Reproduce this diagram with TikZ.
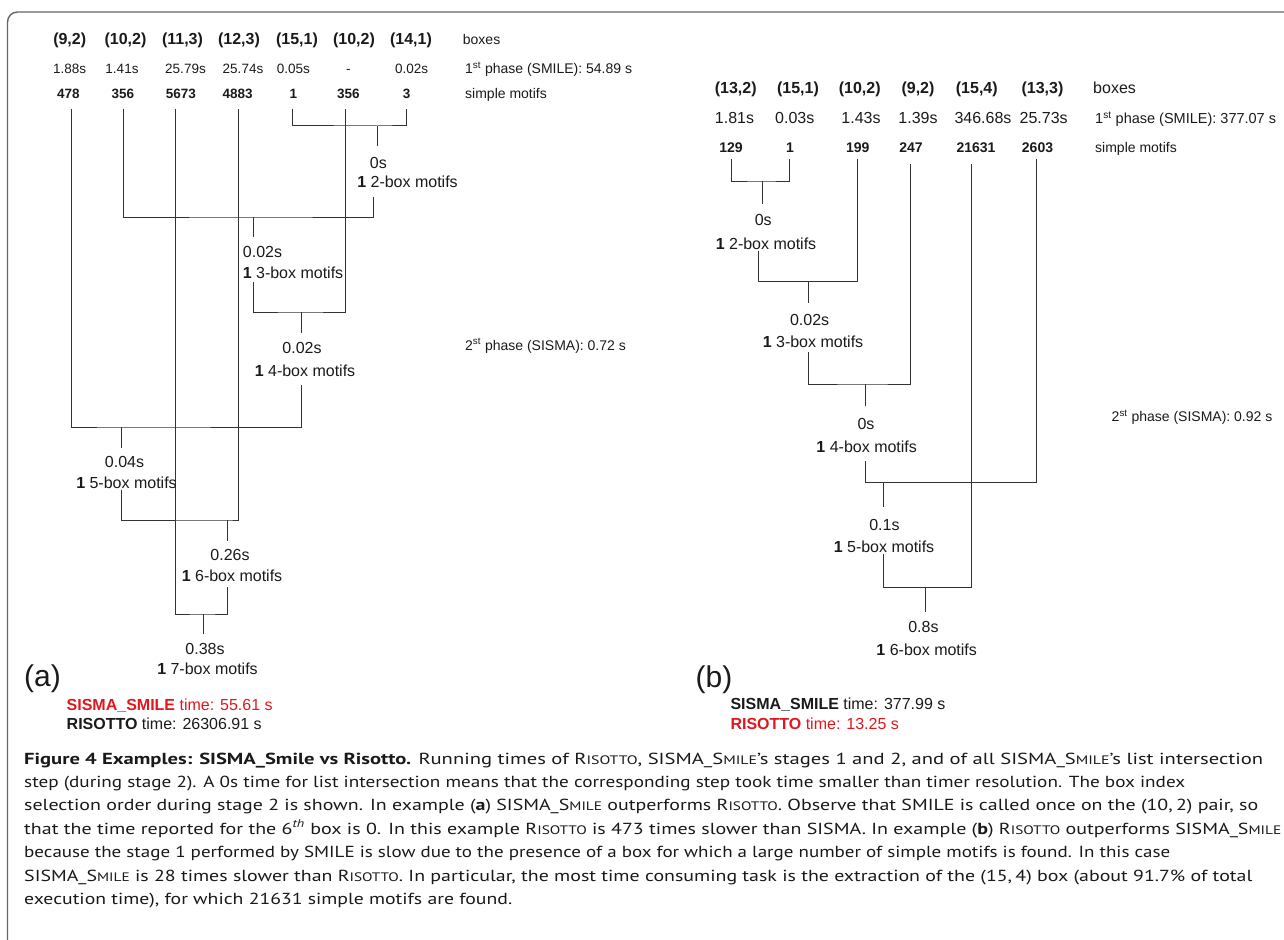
\documentclass[tikz,border=0pt]{standalone}
\usepackage{fontspec}
\usepackage{graphicx}
\setmainfont{Liberation Sans}
\newfontfamily\capfont{PT Sans}
\definecolor{sred}{HTML}{E3161D}
\definecolor{ink}{HTML}{1A1A1A}
\newcommand\sck[1]{{\fontsize{12.3}{14}\selectfont #1}}
\newcommand\capline[2]{\resizebox{#1pt}{\height}{#2}}
\tikzset{
  ln/.style={draw=black!80, line width=1pt},
  frm/.style={draw=black!60, line width=1.4pt, rounded corners=10pt},
  basic/.style={anchor=base, inner sep=0pt, text=ink},
  hbL/.style={basic, font=\bfseries\fontsize{16}{19}\selectfont},
  tmL/.style={basic, font=\fontsize{13.5}{16}\selectfont},
  mbL/.style={basic, font=\bfseries\fontsize{13.5}{16}\selectfont},
  hbR/.style={basic, font=\bfseries\fontsize{16}{19}\selectfont},
  tmR/.style={basic, font=\fontsize{16}{19}\selectfont},
  mbR/.style={basic, font=\bfseries\fontsize{14}{16}\selectfont},
  side/.style={basic, anchor=base west, font=\fontsize{14}{16}\selectfont},
  sideb/.style={basic, anchor=base west, font=\fontsize{16}{19}\selectfont},
  tl/.style={basic, font=\fontsize{16}{19}\selectfont},
  pl/.style={basic, anchor=base west, font=\fontsize{30}{34}\selectfont},
  res/.style={basic, anchor=base west, font=\fontsize{16}{19}\selectfont},
  capl/.style={anchor=base west, inner sep=0pt, text=black!90, font=\capfont\fontsize{16}{19}\selectfont},
}
\begin{document}
\begin{tikzpicture}[x=1pt,y=-1pt]
\useasboundingbox (0,0) rectangle (1284,939);
\begin{scope}
\clip (0,0) rectangle (1284,939);
\draw[frm] (7.5,990) -- (7.5,12) -- (1330,12);
\end{scope}

% ---------------- panel (a) header ----------------
\node[hbL] (ha1) at (69.7,44.3) {(9,2)};
\node[hbL] (ha2) at (125.5,44.3) {(10,2)};
\node[hbL] (ha3) at (182.5,44.3) {(11,3)};
\node[hbL] (ha4) at (239,44.3) {(12,3)};
\node[hbL] (ha5) at (297,44.3) {(15,1)};
\node[hbL] (ha6) at (354,44.3) {(10,2)};
\node[hbL] (ha7) at (411,44.3) {(14,1)};
\node[side] (hab) at (462.7,44.3) {boxes};

\node[tmL] (ta1) at (69.7,73.3) {1.88s};
\node[tmL] (ta2) at (122,73.3) {1.41s};
\node[tmL] (ta3) at (185.5,73.3) {25.79s};
\node[tmL] (ta4) at (243,73.3) {25.74s};
\node[tmL] (ta5) at (293.3,73.3) {0.05s};
\node[tmL] (ta6) at (348.3,73.3) {-};
\node[tmL] (ta7) at (411.7,73.3) {0.02s};
\node[side] (tab) at (465,73.3) {1\textsuperscript{st} phase (SMILE): 54.89 s};

\node[mbL] (ma1) at (68.3,98.3) {478};
\node[mbL] (ma2) at (122.8,98.3) {356};
\node[mbL] (ma3) at (180.8,98.3) {5673};
\node[mbL] (ma4) at (237.7,98.3) {4883};
\node[mbL] (ma5) at (293.3,98.3) {1};
\node[mbL] (ma6) at (348.3,98.3) {356};
\node[mbL] (ma7) at (406.7,98.3) {3};
\node[side] (mab) at (465,98.3) {simple motifs};

\node[side] (pa2) at (465,350) {2\textsuperscript{st} phase (SISMA): 0.72 s};

% ---------------- panel (a) tree ----------------
\coordinate (A1) at (71.5,109);
\coordinate (A2) at (123.5,109);
\coordinate (A3) at (175.5,109);
\coordinate (A4) at (238.5,109);
\coordinate (A5) at (292.5,109);
\coordinate (A6) at (345.5,109);
\coordinate (A7) at (406.5,109);

\coordinate (aj1) at (377.5,126); \coordinate (as1) at (377.5,146);
\coordinate (au2) at (373.5,197); \coordinate (aj2) at (253.5,217); \coordinate (as2) at (253.5,237);
\coordinate (au3) at (253.5,282); \coordinate (aj3) at (301.5,312); \coordinate (as3) at (301.5,333);
\coordinate (au4) at (301.5,385); \coordinate (aj4) at (121.5,427); \coordinate (as4) at (121.5,448);
\coordinate (au5) at (121.5,490); \coordinate (aj5) at (227.5,520); \coordinate (as5) at (227.5,541);
\coordinate (au6) at (227.5,587); \coordinate (aj6) at (203.5,614); \coordinate (as6) at (203.5,634);

\draw[ln] (A5) |- (aj1) -| (A7);  \draw[ln] (aj1) -- (as1);
\draw[ln] (A2) |- (aj2) -| (au2); \draw[ln] (aj2) -- (as2);
\draw[ln] (au3) |- (aj3) -| (A6); \draw[ln] (aj3) -- (as3);
\draw[ln] (A1) |- (aj4) -| (au4); \draw[ln] (aj4) -- (as4);
\draw[ln] (au5) |- (aj5) -| (A4); \draw[ln] (aj5) -- (as5);
\draw[ln] (A3) |- (aj6) -| (au6); \draw[ln] (aj6) -- (as6);

\node[tl] (at1) at (378.3,168.1) {0s};
\node[tl] (am1) at (407.5,187.5) {\textbf{1} 2-box motifs};
\node[tl] (at2) at (262.5,257.8) {0.02s};
\node[tl] (am2) at (293,278.8) {\textbf{1} 3-box motifs};
\node[tl] (at3) at (302,353.8) {0.02s};
\node[tl] (am3) at (305,376.8) {\textbf{1} 4-box motifs};
\node[tl] (at4) at (124.5,467.8) {0.04s};
\node[tl] (am4) at (126.5,488.8) {\textbf{1} 5-box motifs};
\node[tl] (at5) at (230,560.8) {0.26s};
\node[tl] (am5) at (232,581.8) {\textbf{1} 6-box motifs};
\node[tl] (at6) at (205,654.8) {0.38s};
\node[tl] (am6) at (207.5,674.8) {\textbf{1} 7-box motifs};

\node[pl] (la) at (24,686) {(a)};
\node[res, text=sred] (ra1) at (66.5,710.7) {\textbf{SISMA\_SMILE} time: 55.61 s};
\node[res] (ra2) at (66.5,729.3) {\textbf{RISOTTO} time: 26306.91 s};

% ---------------- panel (b) header ----------------
\node[hbR] (hb1) at (735.7,93.5) {(13,2)};
\node[hbR] (hb2) at (798,93.5) {(15,1)};
\node[hbR] (hb3) at (859.7,93.5) {(10,2)};
\node[hbR] (hb4) at (918,93.5) {(9,2)};
\node[hbR] (hb5) at (976.8,93.5) {(15,4)};
\node[hbR] (hb6) at (1042.5,93.5) {(13,3)};
\node[sideb] (hbb) at (1093,93.5) {boxes};

\node[tmR] (tb1) at (734.5,124) {1.81s};
\node[tmR] (tb2) at (794.8,124) {0.03s};
\node[tmR] (tb3) at (861,124) {1.43s};
\node[tmR] (tb4) at (918,124) {1.39s};
\node[tmR] (tb5) at (983,124) {346.68s};
\node[tmR] (tb6) at (1043.7,124) {25.73s};
\node[side, font=\fontsize{14.5}{17}\selectfont] (tbb) at (1095,124) {1\textsuperscript{st} phase (SMILE): 377.07 s};

\node[mbR] (mb1) at (731,152) {129};
\node[mbR] (mb2) at (790,152) {1};
\node[mbR] (mb3) at (857.7,152) {199};
\node[mbR] (mb4) at (911,152) {247};
\node[mbR] (mb5) at (976,152) {21631};
\node[mbR] (mb6) at (1037.5,152) {2603};
\node[side] (mbb) at (1095,152) {simple motifs};

\node[side] (pb2) at (1111.5,421.7) {2\textsuperscript{st} phase (SISMA): 0.92 s};

% ---------------- panel (b) tree ----------------
\coordinate (B1) at (731.5,159);
\coordinate (B2) at (789.5,159);
\coordinate (B3) at (857.5,159);
\coordinate (B4) at (910.5,164);
\coordinate (B5) at (971.5,164);
\coordinate (B6) at (1036.5,159);

\coordinate (bj1) at (762.5,181); \coordinate (bs1) at (762.5,204);
\coordinate (bu2) at (758.5,251); \coordinate (bj2) at (808.5,281.3); \coordinate (bs2) at (808.5,303.3);
\coordinate (bu3) at (808.5,352); \coordinate (bj3) at (865.5,384); \coordinate (bs3) at (865.5,406);
\coordinate (bu4) at (865.5,461); \coordinate (bj4) at (883.5,482.3); \coordinate (bs4) at (883.5,507);
\coordinate (bu5) at (883.5,554); \coordinate (bj5) at (925.5,587.3); \coordinate (bs5) at (925.5,611.7);

\draw[ln] (B1) |- (bj1) -| (B2);  \draw[ln] (bj1) -- (bs1);
\draw[ln] (bu2) |- (bj2) -| (B3); \draw[ln] (bj2) -- (bs2);
\draw[ln] (bu3) |- (bj3) -| (B4); \draw[ln] (bj3) -- (bs3);
\draw[ln] (bu4) |- (bj4) -| (B6); \draw[ln] (bj4) -- (bs4);
\draw[ln] (bu5) |- (bj5) -| (B5); \draw[ln] (bj5) -- (bs5);

\node[tl] (bt1) at (763.2,225.8) {0s};
\node[tl] (bm1) at (766,249.1) {\textbf{1} 2-box motifs};
\node[tl] (bt2) at (809.6,325.1) {0.02s};
\node[tl] (bm2) at (813,347.5) {\textbf{1} 3-box motifs};
\node[tl] (bt3) at (866,429.1) {0s};
\node[tl] (bm3) at (866.7,452.5) {\textbf{1} 4-box motifs};
\node[tl] (bt4) at (884.4,530.1) {0.1s};
\node[tl] (bm4) at (884,552.5) {\textbf{1} 5-box motifs};
\node[tl] (bt5) at (923.4,632.5) {0.8s};
\node[tl] (bm5) at (926.7,655.1) {\textbf{1} 6-box motifs};

\node[pl] (lb) at (695.4,687) {(b)};
\node[res] (rb1) at (730.3,709.3) {\textbf{SISMA\_SMILE} time: 377.99 s};
\node[res, text=sred] (rb2) at (730.3,729) {\textbf{RISOTTO} time: 13.25 s};

% ---------------- caption ----------------
\node[capl] (c1) at (24,764) {\capline{1239}{\textbf{Figure 4 Examples: SISMA\_Smile vs Risotto.} Running times of R\sck{ISOTTO}, SISMA\_S\sck{MILE}’s stages 1 and 2, and of all SISMA\_S\sck{MILE}’s list intersection}};
\node[capl] (c2) at (24,787.4) {\capline{1161}{step (during stage 2). A 0s time for list intersection means that the corresponding step took time smaller than timer resolution. The box index}};
\node[capl] (c3) at (24,810.8) {\capline{1234}{selection order during stage 2 is shown. In example (\textbf{a}) SISMA\_S\sck{MILE} outperforms R\sck{ISOTTO}. Observe that SMILE is called once on the (10,\,2) pair, so}};
\node[capl] (c4) at (24,834.2) {\capline{1257}{that the time reported for the 6\textsuperscript{\itshape th} box is 0. In this example R\sck{ISOTTO} is 473 times slower than SISMA. In example (\textbf{b}) R\sck{ISOTTO} outperforms SISMA\_S\sck{MILE}}};
\node[capl] (c5) at (24,857.6) {\capline{1146}{because the stage 1 performed by SMILE is slow due to the presence of a box for which a large number of simple motifs is found. In this case}};
\node[capl] (c6) at (24,881) {\capline{1228}{SISMA\_S\sck{MILE} is 28 times slower than R\sck{ISOTTO}. In particular, the most time consuming task is the extraction of the (15,\,4) box (about 91.7\% of total}};
\node[capl] (c7) at (24,904.4) {\capline{488}{execution time), for which 21631 simple motifs are found.}};
\end{tikzpicture}
\end{document}
